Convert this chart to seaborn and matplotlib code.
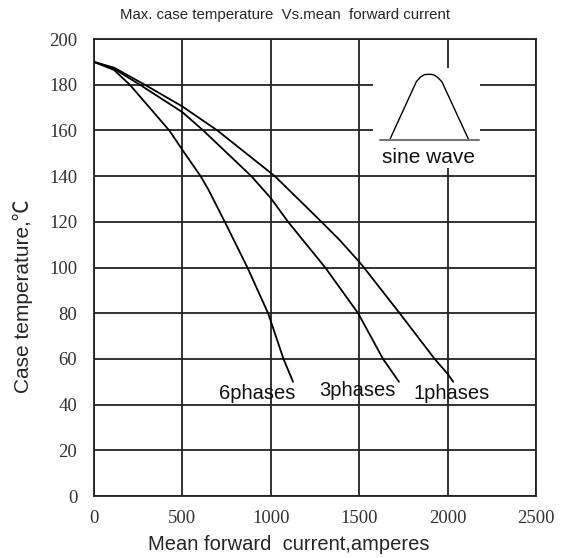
import matplotlib
matplotlib.use("Agg")
import matplotlib.pyplot as plt
import matplotlib.patches as mpatches
import pandas as pd
import seaborn as sns

# ── Data ─────────────────────────────────────────────────────────────────── #
I_6PH = [0, 113, 203, 426, 500, 603, 646, 740, 806, 868, 985, 1072, 1126]
T_6PH = [190, 186.5, 180, 160, 151.5, 140, 134.3, 120, 109.7, 100, 80, 60, 50]

I_3PH = [0, 113, 260, 500, 618, 890, 1000, 1098, 1308, 1494, 1635, 1725]
T_3PH = [190, 187, 180, 168, 160, 140, 130.4, 120, 100, 80, 60, 50]

I_1PH = [0, 113, 288, 500, 698, 1023, 1287, 1390, 1500, 1527, 1729, 1927, 2000, 2032]
T_1PH = [190, 187.5, 180, 170.5, 160, 140, 120, 112, 102.5, 100, 80, 60, 53.5, 50]

CURVE_NAMES = ["6phases", "3phases", "1phases"]
LABEL_X = [925, 1488, 2020]
LABEL_Y = [45, 46, 45]

# sine-wave icon outline
ICON_X = [1672, 1823, 1845, 1868, 1894, 1920, 1943, 1968, 2120]
ICON_Y = [155.8, 181.3, 183.3, 184.4, 184.6, 184.4, 183.3, 181.3, 155.8]
ICON_BASE_X = [1620, 2175]
ICON_BASE_Y = [155.8, 155.8]

X_TICKS = [0, 500, 1000, 1500, 2000, 2500]
Y_TICKS = list(range(0, 201, 20))

# ── Plot ─────────────────────────────────────────────────────────────────── #
sns.set_style("white")
plt.rcParams["font.family"] = ["Liberation Sans", "DejaVu Sans"]

df = pd.concat([
    pd.DataFrame({"current": I_6PH, "temp": T_6PH, "curve": "6phases"}),
    pd.DataFrame({"current": I_3PH, "temp": T_3PH, "curve": "3phases"}),
    pd.DataFrame({"current": I_1PH, "temp": T_1PH, "curve": "1phases"}),
])

fig = plt.figure(figsize=(5.66, 5.58), dpi=100)
ax = fig.add_axes([0.166, 0.111, 0.781, 0.819])

sns.lineplot(data=df, x="current", y="temp", hue="curve",
             palette=["black"] * 3, estimator=None, sort=False,
             linewidth=1.3, legend=False, ax=ax, zorder=3,
             solid_joinstyle="round")

ax.set_xlim(0, 2500)
ax.set_ylim(0, 200)
ax.set_xticks(X_TICKS)
ax.set_yticks(Y_TICKS)
ax.set_axisbelow(True)
ax.grid(True, color="#222222", linewidth=1.3)
for s in ax.spines.values():
    s.set_color("#222222")
    s.set_linewidth(1.3)
ax.tick_params(length=0)
ax.tick_params(axis="x", pad=10)
ax.tick_params(axis="y", pad=12)
for lab in ax.get_xticklabels() + ax.get_yticklabels():
    lab.set_family(["Liberation Serif", "DejaVu Serif"])
    lab.set_fontsize(13.5)
    lab.set_color("#333333")

# white patch behind the sine-wave icon
ax.add_patch(mpatches.Rectangle((1576, 143.5), 610, 43.8, facecolor="white",
                                edgecolor="none", zorder=1))
ax.plot(ICON_X, ICON_Y, color="black", linewidth=1.0, zorder=3)
ax.plot(ICON_BASE_X, ICON_BASE_Y, color="#777777", linewidth=1.5, zorder=3)
ax.text(1893, 148, "sine wave", ha="center", va="center", fontsize=15,
        color="#111111", zorder=4)

for name, lx, ly in zip(CURVE_NAMES, LABEL_X, LABEL_Y):
    ax.text(lx, ly, name, ha="center", va="center", fontsize=14.5,
            color="#111111", zorder=4)

ax.set_xlabel("Mean forward  current,amperes", fontsize=14.5)
ax.xaxis.set_label_coords(0.441, -0.085)
ax.set_ylabel("Case temperature,\u2103", fontsize=15,
              family=["Liberation Sans", "Noto Sans CJK JP", "DejaVu Sans"])
ax.yaxis.set_label_coords(-0.137, 0.438)
fig.text(0.503, 0.973, "Max. case temperature  Vs.mean  forward current",
         ha="center", va="center", fontsize=10.8)

fig.savefig("out.png", dpi=100)
